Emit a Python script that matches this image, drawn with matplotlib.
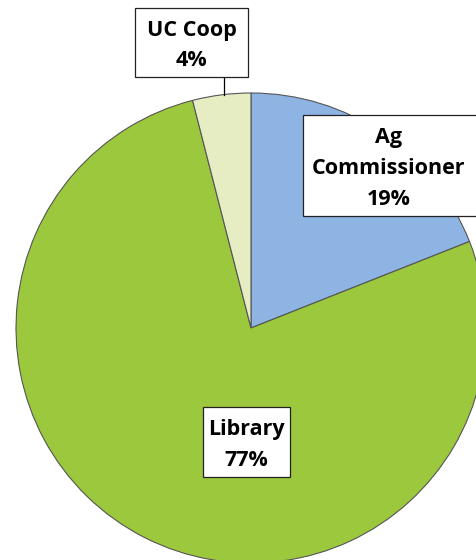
import matplotlib
matplotlib.use("Agg")
import matplotlib.pyplot as plt
from matplotlib.patches import Rectangle

categories = ["Ag\nCommissioner", "Library", "UC Coop"]
values = [19, 77, 4]
colors = ["#8DB4E2", "#9BC83C", "#E6EDC2"]

fig = plt.figure(figsize=(4.76, 5.6), dpi=100)
ax = fig.add_axes([0, 0, 1, 1])
H = 560
cx, cy, r = 251, H - 328, 235
ax.pie(values, colors=colors, startangle=90, counterclock=False,
       center=(cx, cy), radius=r,
       wedgeprops=dict(edgecolor="#555555", linewidth=0.8))
ax.set_xlim(0, 476)
ax.set_ylim(0, H)
ax.set_aspect("equal")
ax.axis("off")

font = ["Open Sans", "DejaVu Sans"]
labels = [f"{c}\n{v}%" for c, v in zip(categories, values)]
# (box x0, y0 top, x1, y1 bottom) in pixels
boxes = [(303, 115, 480, 216), (203, 407, 290, 477), (135, 8, 248, 77)]
for lab, (x0, y0, x1, y1) in zip(labels, boxes):
    ax.add_patch(Rectangle((x0, H - y1), x1 - x0, y1 - y0, facecolor="white",
                           edgecolor="#222222", linewidth=0.9, zorder=3))
    ax.text((x0 + min(x1, 476)) / 2 + (-1 if x1 > 476 else 0), H - (y0 + y1) / 2 - 3, lab,
            ha="center", va="center", fontsize=15.5, fontweight="bold",
            family=font, linespacing=1.6, zorder=4, color="black")

# leader line for UC Coop
ax.plot([224, 224], [H - 77, H - 95], color="black", linewidth=0.9, zorder=2)

fig.savefig("out.png", dpi=100)
